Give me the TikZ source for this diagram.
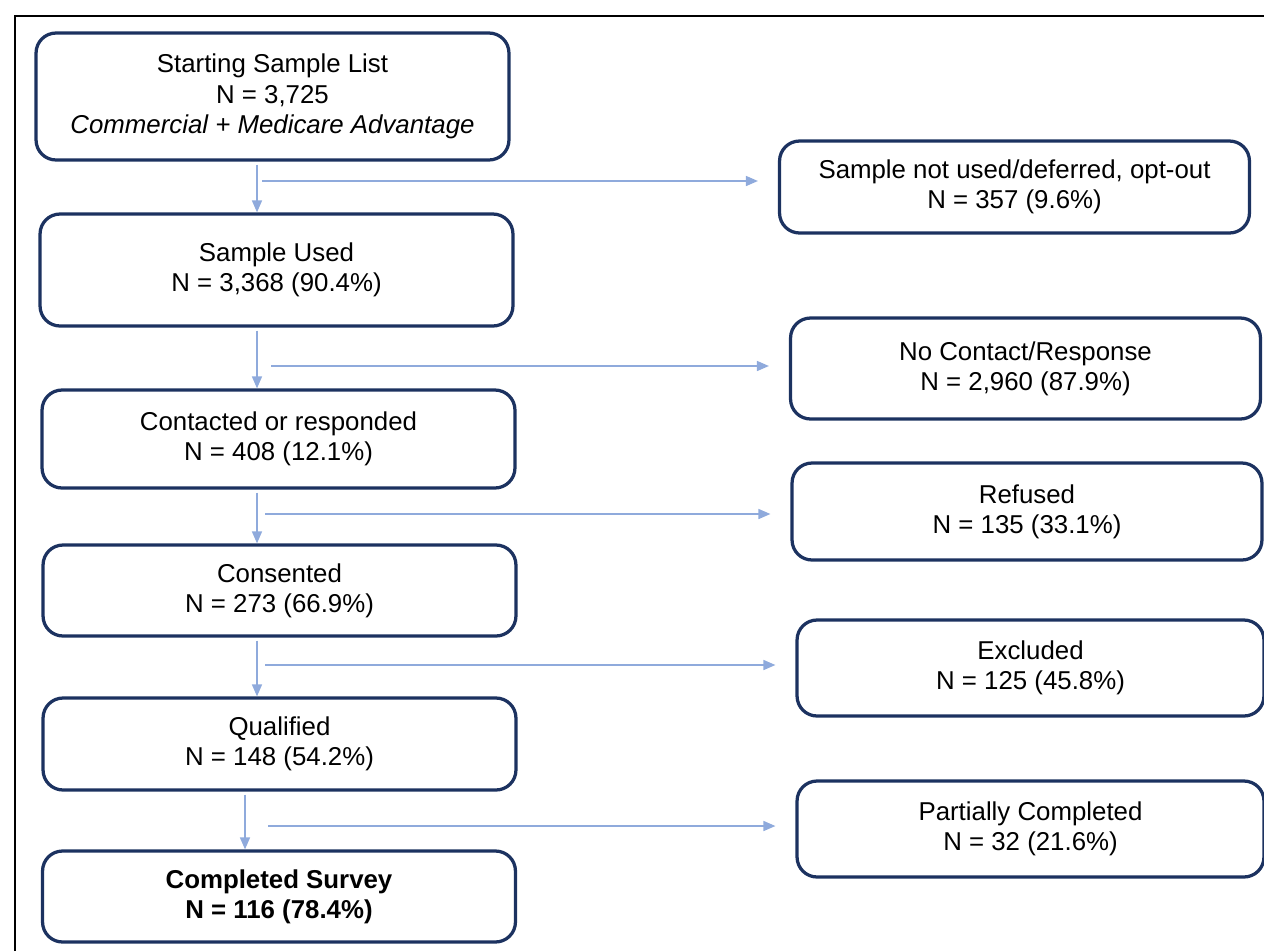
\documentclass[tikz,border=0pt]{standalone}
\usepackage{fontspec}
\setmainfont{Liberation Sans}
\usetikzlibrary{arrows.meta,calc}
\definecolor{boxnavy}{RGB}{28,50,96}
\definecolor{flowblue}{RGB}{143,170,220}

\begin{document}
\begin{tikzpicture}[
    x=0.02cm, y=-0.02cm,
    font=\fontsize{14.7}{17.2}\selectfont,
    stepnode/.style={draw=boxnavy, line width=0.065cm, rounded corners=0.4cm, align=center, inner sep=0pt, fill=white},
    mainbox/.style={stepnode, minimum width=9.46cm},
    sidebox/.style={stepnode, minimum width=9.4cm},
    arrow/.style={-{Triangle[length=0.24cm,width=0.2cm]}, color=flowblue, line width=0.03cm},
    sidearrow/.style={arrow, shorten >=0.4cm}
]
\useasboundingbox (0,0) rectangle (1264,951);

% ===================== FRAME =====================
\draw[line width=0.04cm] (15,951) -- (15,16) -- (1264,16);

% ===================== MAIN FLOW =====================
\node[mainbox, minimum height=2.54cm] (start) at (272.5,96.5)
{Starting Sample List\\N = 3,725\\\textit{Commercial + Medicare Advantage}};
\node[mainbox, minimum height=2.24cm] (used) at (276.5,270)
{Sample Used\\N = 3,368 (90.4\%)};
\node[mainbox, minimum height=1.96cm] (contact) at (278.5,439)
{Contacted or responded\\N = 408 (12.1\%)};
\node[mainbox, minimum height=1.82cm] (consent) at (279.5,590.5)
{Consented\\N = 273 (66.9\%)};
\node[mainbox, minimum height=1.84cm] (qual) at (279.5,744)
{Qualified\\N = 148 (54.2\%)};
\node[mainbox, minimum height=1.82cm] (done) at (279,896.5)
{\textbf{Completed Survey}\\\textbf{N = 116 (78.4\%)}};

% ===================== DROP-OUTS =====================
\node[sidebox, minimum height=1.84cm] (notused) at (1014.5,187)
{Sample not used/deferred, opt-out\\N = 357 (9.6\%)};
\node[sidebox, minimum height=2.02cm] (nocontact) at (1025.5,368.5)
{No Contact/Response\\N = 2,960 (87.9\%)};
\node[sidebox, minimum height=1.94cm] (refused) at (1027,511.5)
{Refused\\N = 135 (33.1\%)};
\node[sidebox, minimum width=9.34cm, minimum height=1.92cm] (excluded) at (1030.5,668)
{Excluded\\N = 125 (45.8\%)};
\node[sidebox, minimum width=9.34cm, minimum height=1.92cm] (partial) at (1030.5,829)
{Partially Completed\\N = 32 (21.6\%)};

% ===================== ARROWS =====================
\coordinate (col) at (257,0);
\coordinate (col2) at (245,0);
\coordinate (split1) at (262,181);
\coordinate (split2) at (271,366);
\coordinate (split3) at (265,514);
\coordinate (split4) at (265,665);
\coordinate (split5) at (268,826);

\draw[arrow] ($(start.south -| col)+(0,3)$) -- (used.north -| col);
\draw[arrow] ($(used.south -| col)+(0,3)$) -- (contact.north -| col);
\draw[arrow] ($(contact.south -| col)+(0,3)$) -- (consent.north -| col);
\draw[arrow] ($(consent.south -| col)+(0,3)$) -- (qual.north -| col);
\draw[arrow] ($(qual.south -| col2)+(0,3)$) -- (done.north -| col2);

\draw[sidearrow] (split1) -- (split1 -| notused.west);
\draw[sidearrow] (split2) -- (split2 -| nocontact.west);
\draw[sidearrow] (split3) -- (split3 -| refused.west);
\draw[sidearrow] (split4) -- (split4 -| excluded.west);
\draw[sidearrow] (split5) -- (split5 -| partial.west);

\end{tikzpicture}
\end{document}
